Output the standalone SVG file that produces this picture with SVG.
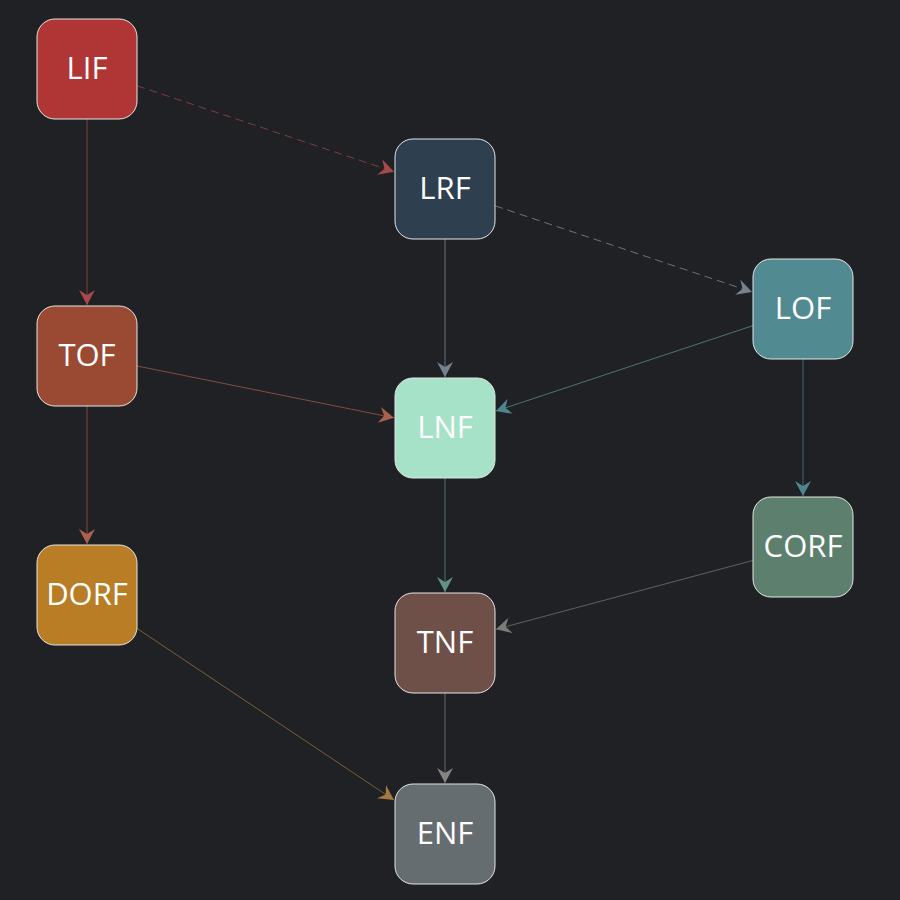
<svg xmlns="http://www.w3.org/2000/svg" width="900" height="900" viewBox="0 0 900 900">
<style>
.node rect{stroke:#e6e6e6;stroke-width:1;}
.node text{font-family:"Open Sans","Noto Sans",sans-serif;font-size:31px;fill:#ffffff;text-anchor:middle;}
.edge{fill:none;stroke-width:1;stroke-opacity:0.7;}
.dash{stroke-dasharray:8,5;}
</style>
<defs>
<marker id="aLIF" markerUnits="userSpaceOnUse" markerWidth="18" markerHeight="18" refX="15" refY="8" orient="auto"><path d="M0,0 L15,8 L0,16 L5,8 z" fill="#a8484a"/></marker>
<marker id="aLRF" markerUnits="userSpaceOnUse" markerWidth="18" markerHeight="18" refX="15" refY="8" orient="auto"><path d="M0,0 L15,8 L0,16 L5,8 z" fill="#76838f"/></marker>
<marker id="aLOF" markerUnits="userSpaceOnUse" markerWidth="18" markerHeight="18" refX="15" refY="8" orient="auto"><path d="M0,0 L15,8 L0,16 L5,8 z" fill="#4f858e"/></marker>
<marker id="aTOF" markerUnits="userSpaceOnUse" markerWidth="18" markerHeight="18" refX="15" refY="8" orient="auto"><path d="M0,0 L15,8 L0,16 L5,8 z" fill="#ac604e"/></marker>
<marker id="aLNF" markerUnits="userSpaceOnUse" markerWidth="18" markerHeight="18" refX="15" refY="8" orient="auto"><path d="M0,0 L15,8 L0,16 L5,8 z" fill="#5f9484"/></marker>
<marker id="aCORF" markerUnits="userSpaceOnUse" markerWidth="18" markerHeight="18" refX="15" refY="8" orient="auto"><path d="M0,0 L15,8 L0,16 L5,8 z" fill="#7a7c76"/></marker>
<marker id="aDORF" markerUnits="userSpaceOnUse" markerWidth="18" markerHeight="18" refX="15" refY="8" orient="auto"><path d="M0,0 L15,8 L0,16 L5,8 z" fill="#a47a40"/></marker>
<marker id="aTNF" markerUnits="userSpaceOnUse" markerWidth="18" markerHeight="18" refX="15" refY="8" orient="auto"><path d="M0,0 L15,8 L0,16 L5,8 z" fill="#86847f"/></marker>
</defs>
<rect x="0" y="0" width="900" height="900" fill="#202124"/>
<g id="connectors">
<line class="edge dash" x1="137" y1="85.8" x2="394" y2="171.8" stroke="#a8484a" marker-end="url(#aLIF)"/>
<line class="edge dash" x1="495" y1="205.8" x2="752" y2="292" stroke="#8a96a2" marker-end="url(#aLRF)"/>
<line class="edge" x1="87" y1="119" x2="87" y2="305" stroke="#a8484a" marker-end="url(#aLIF)"/>
<line class="edge" x1="445" y1="239" x2="445" y2="377" stroke="#8a96a2" marker-end="url(#aLRF)"/>
<line class="edge" x1="753" y1="325.6" x2="496" y2="411" stroke="#5e9a90" marker-end="url(#aLOF)"/>
<line class="edge" x1="137" y1="366" x2="394" y2="417.8" stroke="#ac604e" marker-end="url(#aTOF)"/>
<line class="edge" x1="803" y1="359" x2="803" y2="496" stroke="#4f858e" marker-end="url(#aLOF)"/>
<line class="edge" x1="87" y1="406" x2="87" y2="544" stroke="#ac604e" marker-end="url(#aTOF)"/>
<line class="edge" x1="445" y1="478" x2="445" y2="592" stroke="#5f9484" marker-end="url(#aLNF)"/>
<line class="edge" x1="753" y1="560.4" x2="496" y2="629.3" stroke="#7a7c76" marker-end="url(#aCORF)"/>
<line class="edge" x1="137" y1="628.4" x2="394" y2="800" stroke="#a47a40" marker-end="url(#aDORF)"/>
<line class="edge" x1="445" y1="693" x2="445" y2="783" stroke="#86847f" marker-end="url(#aTNF)"/>
</g>
<g id="LIF" class="node"><rect x="37" y="19" width="100" height="100" rx="18" fill="#b03535"/><text x="87" y="79">LIF</text></g>
<g id="LRF" class="node"><rect x="395" y="139" width="100" height="100" rx="18" fill="#2e3f4f"/><text x="445" y="199">LRF</text></g>
<g id="LOF" class="node"><rect x="753" y="259" width="100" height="100" rx="18" fill="#528a92"/><text x="803" y="319">LOF</text></g>
<g id="TOF" class="node"><rect x="37" y="306" width="100" height="100" rx="18" fill="#9a4a33"/><text x="87" y="366">TOF</text></g>
<g id="LNF" class="node"><rect x="395" y="378" width="100" height="100" rx="18" fill="#a5e2c8"/><text x="445" y="438">LNF</text></g>
<g id="CORF" class="node"><rect x="753" y="497" width="100" height="100" rx="18" fill="#5c806d"/><text x="803" y="557">CORF</text></g>
<g id="DORF" class="node"><rect x="37" y="545" width="100" height="100" rx="18" fill="#b87d25"/><text x="87" y="605">DORF</text></g>
<g id="TNF" class="node"><rect x="395" y="593" width="100" height="100" rx="18" fill="#6e5048"/><text x="445" y="653">TNF</text></g>
<g id="ENF" class="node"><rect x="395" y="784" width="100" height="100" rx="18" fill="#666d71"/><text x="445" y="844">ENF</text></g>
</svg>
